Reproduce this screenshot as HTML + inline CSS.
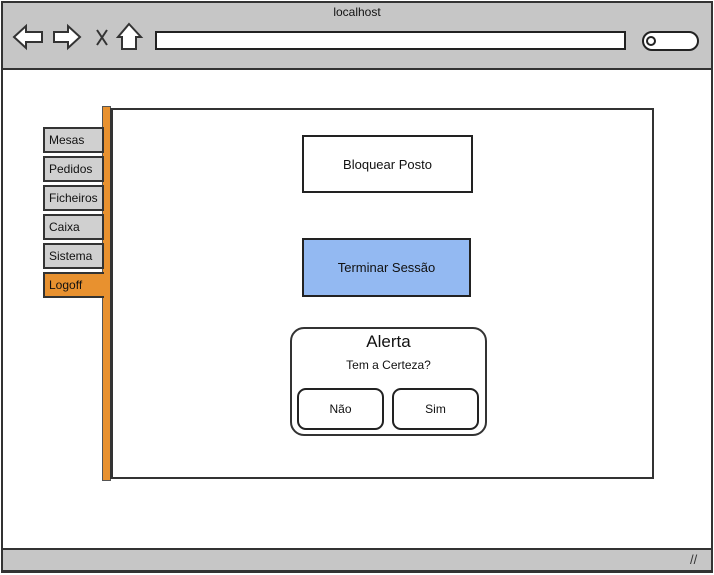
<!DOCTYPE html>
<html><head><style>
body{margin:0;width:714px;height:575px;background:#fff;position:relative;overflow:hidden;font-family:"Liberation Sans",sans-serif;}
.a{position:absolute;box-sizing:border-box;}
.tab{position:absolute;left:43px;width:61px;height:26px;border:2px solid #333;background:#d0d0d0;font-size:12px;padding:4px 0 0 4px;box-sizing:border-box;color:#111;}
.btn{position:absolute;box-sizing:border-box;border:2px solid #222;display:flex;align-items:center;justify-content:center;font-size:13px;color:#111;}
</style></head><body>
<div class="a" style="left:1px;top:1px;width:712px;height:572px;border:2px solid #333;"></div>
<div class="a" style="left:1px;top:1px;width:712px;height:69px;background:#c6c6c6;border:2px solid #333;"></div>
<div class="a" style="left:0;top:5px;width:714px;text-align:center;font-size:12px;color:#111;">localhost</div>
<svg class="a" style="left:0;top:20px" width="150" height="34">
<path d="M14 17 L26 6 L26 12 L42 12 L42 22 L26 22 L26 28 Z" fill="#fff" stroke="#333" stroke-width="2"/>
<path d="M80 17 L68 6 L68 12 L54 12 L54 22 L68 22 L68 28 Z" fill="#fff" stroke="#333" stroke-width="2"/>
<path d="M97 10 L107 25 M107 10 L97 25" stroke="#333" stroke-width="2"/>
<path d="M129 4 L141 17 L136 17 L136 29 L122 29 L122 17 L118 17 Z" fill="#fff" stroke="#333" stroke-width="2"/>
</svg>
<div class="a" style="left:155px;top:31px;width:471px;height:19px;background:#fff;border:2px solid #222;"></div>
<div class="a" style="left:642px;top:31px;width:57px;height:20px;background:#fff;border:2px solid #222;border-radius:10px;"></div>
<div class="a" style="left:646px;top:36px;width:10px;height:10px;border:2px solid #222;border-radius:50%;"></div>
<div class="a" style="left:1px;top:548px;width:712px;height:24px;background:#c6c6c6;border:2px solid #333;"></div>
<div class="a" style="left:690px;top:552px;font-size:13px;color:#333;">//</div>
<div class="a" style="left:102px;top:106px;width:9px;height:375px;background:#e8912f;border:1px solid #555;"></div>
<div class="a" style="left:110px;top:108px;width:544px;height:371px;border:2px solid #333;border-left:3px solid #333;"></div>
<div class="tab" style="top:127px">Mesas</div>
<div class="tab" style="top:156px">Pedidos</div>
<div class="tab" style="top:185px">Ficheiros</div>
<div class="tab" style="top:214px">Caixa</div>
<div class="tab" style="top:243px">Sistema</div>
<div class="tab" style="top:272px;background:#e8912f;border-right:none">Logoff</div>
<div class="btn" style="left:302px;top:135px;width:171px;height:58px;background:#fff;">Bloquear Posto</div>
<div class="btn" style="left:302px;top:238px;width:169px;height:59px;background:#93b9f2;">Terminar Sessão</div>
<div class="a" style="left:290px;top:327px;width:197px;height:109px;border:2px solid #333;border-radius:14px;background:#fff;"></div>
<div class="a" style="left:290px;top:332px;width:197px;text-align:center;font-size:17px;color:#111;">Alerta</div>
<div class="a" style="left:290px;top:358px;width:197px;text-align:center;font-size:12px;color:#111;">Tem a Certeza?</div>
<div class="btn" style="left:297px;top:388px;width:87px;height:42px;border-radius:9px;background:#fff;font-size:12px;">Não</div>
<div class="btn" style="left:392px;top:388px;width:87px;height:42px;border-radius:9px;background:#fff;font-size:12px;">Sim</div>
</body></html>
